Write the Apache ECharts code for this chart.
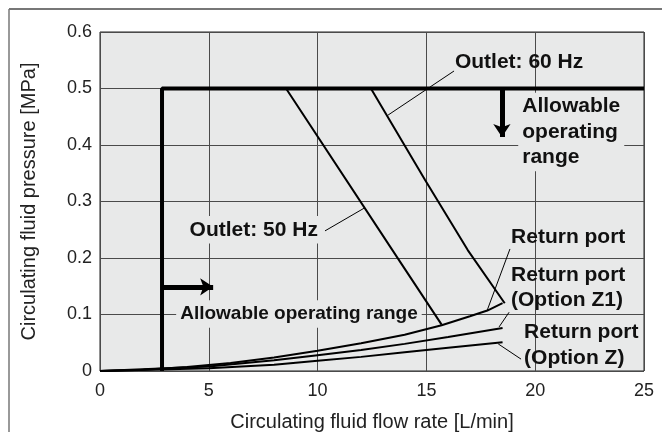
<!DOCTYPE html>
<html>
<head>
<meta charset="utf-8">
<script src="https://cdn.jsdelivr.net/npm/echarts@6/dist/echarts.min.js"></script>
<style>
  html, body { margin: 0; padding: 0; background: #fff; }
  #chart { width: 662px; height: 432px; }
</style>
</head>
<body>
<div id="chart"></div>
<script>
// data
const xTicks = [0, 5, 10, 15, 20, 25];
const yTicks = [0, 0.1, 0.2, 0.3, 0.4, 0.5, 0.6];

const allowableLimit = [[2.85, 0], [2.85, 0.5], [25, 0.5]];
const outlet50 = [[8.55, 0.5], [13.9, 0.187], [15.7, 0.082]];
const outlet60 = [[12.45, 0.5], [14.94, 0.338], [16.9, 0.214], [18.6, 0.12]];
const returnPort = [[0, 0], [2, 0.002], [4, 0.007], [6, 0.014], [8, 0.024], [10, 0.036],
    [12, 0.049], [14, 0.064], [15.7, 0.081], [17, 0.097], [17.8, 0.107], [18.5, 0.12]];
const returnZ1 = [[0, 0], [5, 0.008], [8, 0.019], [10, 0.028], [12, 0.037], [14, 0.048],
    [16, 0.06], [18.5, 0.076]];
const returnZ = [[0, 0], [5, 0.005], [8, 0.011], [10, 0.018], [12, 0.025], [14, 0.033],
    [16, 0.041], [18.5, 0.051]];

const leaders = [
    [[16.27, 0.531], [13.24, 0.453]],
    [[10.34, 0.248], [12.13, 0.288]],
    [[18.84, 0.216], [17.78, 0.106]],
    [[18.8, 0.104], [18.34, 0.078]],
    [[19.35, 0.021], [18.3, 0.048]]
];
const arrows = [
    [[18.47, 0.5], [18.47, 0.414]],
    [[2.85, 0.149], [5.2, 0.149]]
];
const notes = [
    { text: 'Outlet: 60 Hz', at: [16.31, 0.547], align: 'left', size: 21, bg: false },
    { text: 'Allowable\noperating\nrange', at: [19.22, 0.423], align: 'left', size: 21, bg: true },
    { text: 'Outlet: 50 Hz', at: [10.2, 0.25], align: 'right', size: 21, bg: true },
    { text: 'Allowable operating range', at: [3.5, 0.101], align: 'left', size: 19, bg: true },
    { text: 'Return port', at: [18.89, 0.237], align: 'left', size: 21, bg: false },
    { text: 'Return port\n(Option Z1)', at: [18.89, 0.147], align: 'left', size: 21, bg: false },
    { text: 'Return port\n(Option Z)', at: [19.49, 0.046], align: 'left', size: 21, bg: false }
];

const plotBg = '#e8e9e9';
const font = '"Liberation Sans", Arial, sans-serif';

const chart = echarts.init(document.getElementById('chart'));

function curve(data, width) {
    return {
        type: 'line',
        data: data,
        showSymbol: false,
        silent: true,
        lineStyle: { color: '#000', width: width },
        z: 3
    };
}

chart.setOption({
    animation: false,
    backgroundColor: '#fff',
    textStyle: { fontFamily: font },
    grid: {
        left: 100, right: 18, top: 32, bottom: 61,
        outerBoundsMode: 'none', containLabel: false,
        show: true, backgroundColor: plotBg, borderColor: '#222', borderWidth: 1
    },
    xAxis: {
        type: 'value', min: xTicks[0], max: xTicks[xTicks.length - 1], interval: 5,
        name: 'Circulating fluid flow rate [L/min]', nameLocation: 'middle', nameGap: 41,
        nameTextStyle: { fontSize: 20, color: '#222', fontFamily: font },
        axisLine: { show: false }, axisTick: { show: false },
        axisLabel: { fontSize: 18, color: '#222', margin: 11, fontFamily: font },
        splitLine: { lineStyle: { color: '#4a4a4a', width: 1 } }
    },
    yAxis: {
        type: 'value', min: yTicks[0], max: yTicks[yTicks.length - 1], interval: 0.1,
        name: 'Circulating fluid pressure [MPa]', nameLocation: 'middle', nameGap: 61,
        nameTextStyle: { fontSize: 20, color: '#222', fontFamily: font },
        axisLine: { show: false }, axisTick: { show: false },
        axisLabel: { fontSize: 18, color: '#222', margin: 8, fontFamily: font },
        splitLine: { lineStyle: { color: '#4a4a4a', width: 1 } }
    },
    series: [
        curve(allowableLimit, 4),
        curve(outlet50, 2),
        curve(outlet60, 2),
        curve(returnPort, 2),
        curve(returnZ1, 2),
        curve(returnZ, 2),
        {
            type: 'lines', coordinateSystem: 'cartesian2d', silent: true, z: 4,
            lineStyle: { color: '#000', width: 1, opacity: 1 },
            data: leaders.map(c => ({ coords: c }))
        },
        {
            type: 'lines', coordinateSystem: 'cartesian2d', silent: true, z: 4,
            symbol: ['none', 'arrow'], symbolSize: 13,
            lineStyle: { color: '#000', width: 5, opacity: 1 },
            data: arrows.map(c => ({ coords: c }))
        }
    ]
});

function drawNotes() {
    const els = notes.map(n => {
        const p = chart.convertToPixel({ gridIndex: 0 }, n.at);
        return {
            type: 'text', x: p[0], y: p[1], z: 10, silent: true,
            style: {
                text: n.text, fill: '#111', fontWeight: 'bold', fontSize: n.size,
                fontFamily: font, lineHeight: 25.5, align: n.align, verticalAlign: 'middle',
                backgroundColor: n.bg ? plotBg : 'transparent', padding: n.bg ? [1, 4] : 0
            }
        };
    });
    // outer frame (top and left edges only)
    els.push({ type: 'line', shape: { x1: 9, y1: 9, x2: 662, y2: 9 }, style: { stroke: '#777', lineWidth: 2 } });
    els.push({ type: 'line', shape: { x1: 9, y1: 9, x2: 9, y2: 432 }, style: { stroke: '#777', lineWidth: 1.5 } });
    chart.setOption({ graphic: els });
}
drawNotes();
</script>
</body>
</html>
